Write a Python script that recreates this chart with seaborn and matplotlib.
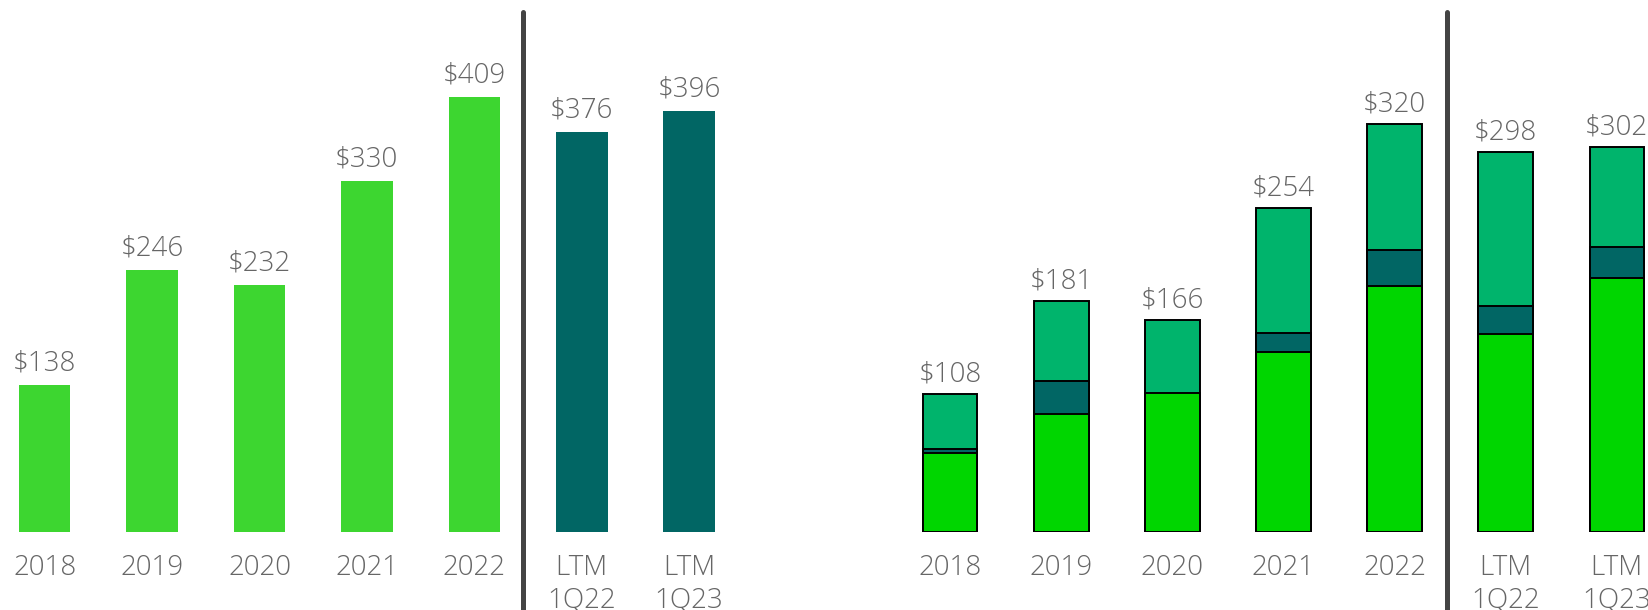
#--Import libraries--#
import seaborn as sns
import pandas as pd
import matplotlib.pyplot as plt

#--Data--#
periods = ['2018', '2019', '2020', '2021', '2022', 'LTM\n1Q22', 'LTM\n1Q23']
left_values = [138, 246, 232, 330, 409, 376, 396]
seg_bottom = [62, 92, 109, 141, 193, 155, 199]
seg_mid = [3, 26, 0, 15, 28, 22, 24]
seg_top = [43, 63, 57, 98, 99, 121, 79]

#--Colors--#
GREEN = '#3DD630'
TEAL = '#016664'
BRIGHT = '#00D600'
SEA = '#00B46C'
GREY = '#666666'
SEP = '#444444'

sns.set_style('white')
plt.rcParams['font.family'] = ['Open Sans', 'DejaVu Sans']

df = pd.DataFrame({'period': periods, 'left': left_values,
                   'bottom': seg_bottom, 'mid': seg_mid, 'top': seg_top})
df['low2'] = df['bottom'] + df['mid']
df['total'] = df['low2'] + df['top']

fig = plt.figure(figsize=(16.49, 6.10), dpi=100)
ax1 = fig.add_axes([0, 0.1284, 0.5, 0.8716])
ax2 = fig.add_axes([0.5, 0.1284, 0.5, 0.8716])

#--Left chart--#
bar_cols = {p: (GREEN if i < 5 else TEAL) for i, p in enumerate(periods)}
sns.barplot(data=df, x='period', y='left', hue='period', palette=bar_cols,
            legend=False, width=0.48, saturation=1, linewidth=0, ax=ax1)
for i, v in enumerate(left_values):
    ax1.annotate(f'${v}', (i, v), xytext=(0, 15.2), textcoords='offset points',
                 ha='center', va='center', fontsize=20, color=GREY, fontweight='light')

#--Right chart (stacked by layering totals)--#
for col, c in [('total', SEA), ('low2', TEAL), ('bottom', BRIGHT)]:
    sns.barplot(data=df, x='period', y=col, color=c, saturation=1, width=0.49,
                edgecolor='black', linewidth=1.4, ax=ax2)
for i, v in enumerate(df['total']):
    ax2.annotate(f'${v}', (i, v), xytext=(0, 14.0), textcoords='offset points',
                 ha='center', va='center', fontsize=20, color=GREY, fontweight='light')

#--Axes styling--#
ax1.set_xlim(-0.416, 7.26)
ax1.set_ylim(0, 499.9)
ax2.set_xlim(-1.132, 6.29)
ax2.set_ylim(0, 417.0)
for ax in (ax1, ax2):
    sns.despine(ax=ax, left=True, bottom=True)
    ax.set_xlabel('')
    ax.set_ylabel('')
    ax.set_yticks([])
    ax.tick_params(axis='x', length=0, pad=16, labelsize=20, labelcolor=GREY)
    for lab in ax.get_xticklabels():
        lab.set_linespacing(1.2)
        lab.set_fontweight('light')

ax1.axvline(4.449, ymin=-0.16, ymax=0.978, color=SEP, lw=3.6, clip_on=False)
ax2.axvline(4.471, ymin=-0.16, ymax=0.978, color=SEP, lw=3.6, clip_on=False)

fig.savefig('out.png', dpi=100)
